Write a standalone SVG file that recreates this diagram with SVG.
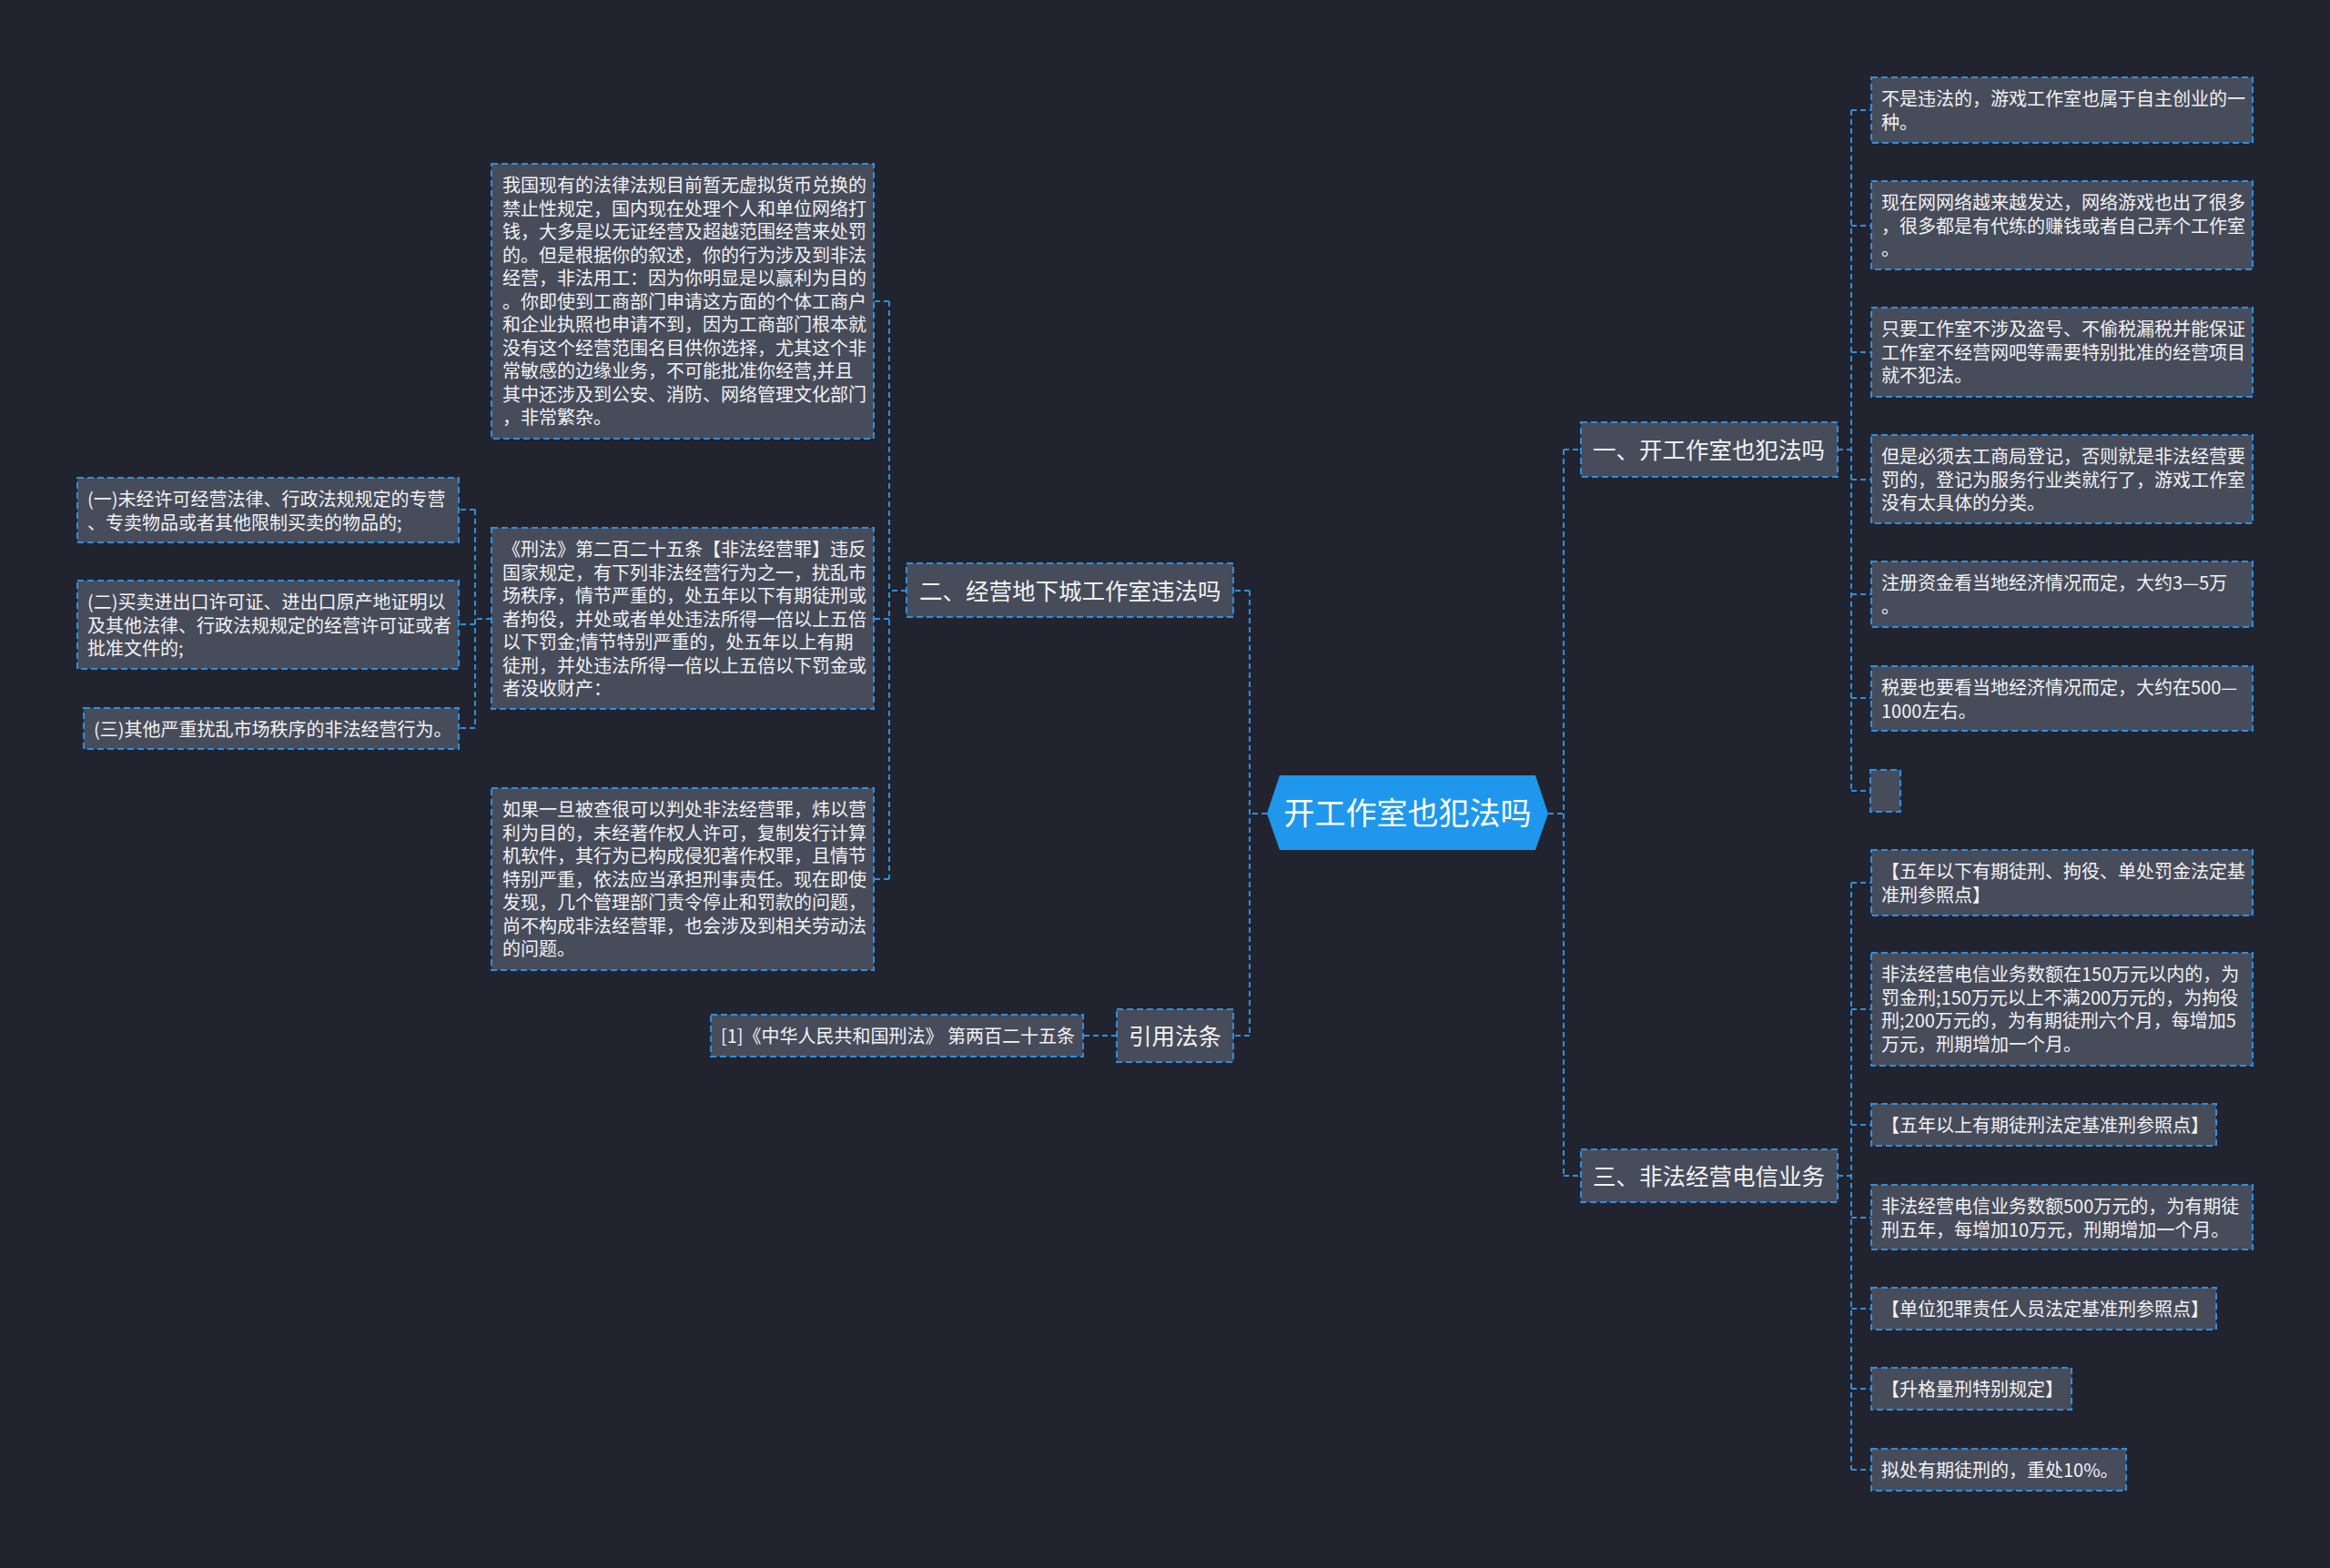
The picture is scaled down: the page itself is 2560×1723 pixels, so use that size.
<svg xmlns="http://www.w3.org/2000/svg" width="2560" height="1723" viewBox="0 0 2560 1723">
<style>
.n rect{fill:#474c5b;stroke:#2b8fe0;stroke-width:2;stroke-dasharray:7 4}
.t{fill:#f2f2f2;font-family:"Noto Sans CJK SC","Noto Sans",sans-serif;font-size:20px}
.b{fill:#f2f2f2;font-family:"Noto Sans CJK SC","Noto Sans",sans-serif;font-size:25.5px}
.c{fill:#ffffff;font-family:"Noto Sans CJK SC","Noto Sans",sans-serif;font-size:34px}
#conns path{fill:none;stroke:#2b8fe0;stroke-width:2;stroke-dasharray:6 4}
</style>
<rect x="0" y="0" width="2560" height="1723" fill="#21242f"/>
<g id="conns">
<path d="M1392 894H1373M1373 649V1138M1373 649H1355M1373 1138H1355"/>
<path d="M1701 894H1718M1718 494V1292M1718 494H1737M1718 1292H1737"/>
<path d="M996 649H977M977 331V966M977 331H960M977 680H960M977 966H960"/>
<path d="M540 680H522M522 560V800M522 560H504M522 686H504M522 800H504"/>
<path d="M1227 1138H1190"/>
<path d="M2019 494H2034M2034 121V869M2034 121H2056M2034 248H2056M2034 387H2056M2034 527H2056M2034 653H2056M2034 767H2056M2034 869H2055"/>
<path d="M2019 1292H2034M2034 970V1615M2034 970H2056M2034 1109H2056M2034 1236H2056M2034 1338H2056M2034 1438H2056M2034 1526H2056M2034 1615H2056"/>
</g>
<g id="center">
<polygon points="1392,894 1406,852 1687,852 1701,894 1687,934 1406,934" fill="#1e97ed"/>
<text class="c" x="1546.5" y="906" text-anchor="middle">开工作室也犯法吗</text>
</g>
<g id="b1" class="n"><rect x="1737" y="464" width="282" height="60"/><text class="b" x="1750" y="503.5">一、开工作室也犯法吗</text></g>
<g id="b2" class="n"><rect x="996" y="619" width="359" height="59"/><text class="b" x="1010" y="658.5">二、经营地下城工作室违法吗</text></g>
<g id="b3" class="n"><rect x="1737" y="1263" width="282" height="58"/><text class="b" x="1750" y="1301.5">三、非法经营电信业务</text></g>
<g id="b4" class="n"><rect x="1227" y="1109" width="128" height="58"/><text class="b" x="1240" y="1147.5">引用法条</text></g>
<g id="l1" class="n"><rect x="540" y="180" width="420" height="302"/><text class="t" y="211"><tspan x="552">我国现有的法律法规目前暂无虚拟货币兑换的</tspan><tspan x="552" dy="25.5">禁止性规定，国内现在处理个人和单位网络打</tspan><tspan x="552" dy="25.5">钱，大多是以无证经营及超越范围经营来处罚</tspan><tspan x="552" dy="25.5">的。但是根据你的叙述，你的行为涉及到非法</tspan><tspan x="552" dy="25.5">经营，非法用工：因为你明显是以赢利为目的</tspan><tspan x="552" dy="25.5">。你即使到工商部门申请这方面的个体工商户</tspan><tspan x="552" dy="25.5">和企业执照也申请不到，因为工商部门根本就</tspan><tspan x="552" dy="25.5">没有这个经营范围名目供你选择，尤其这个非</tspan><tspan x="552" dy="25.5">常敏感的边缘业务，不可能批准你经营,并且</tspan><tspan x="552" dy="25.5">其中还涉及到公安、消防、网络管理文化部门</tspan><tspan x="552" dy="25.5">，非常繁杂。</tspan></text></g>
<g id="l2" class="n"><rect x="540" y="580" width="420" height="199"/><text class="t" y="611"><tspan x="552">《刑法》第二百二十五条【非法经营罪】违反</tspan><tspan x="552" dy="25.5">国家规定，有下列非法经营行为之一，扰乱市</tspan><tspan x="552" dy="25.5">场秩序，情节严重的，处五年以下有期徒刑或</tspan><tspan x="552" dy="25.5">者拘役，并处或者单处违法所得一倍以上五倍</tspan><tspan x="552" dy="25.5">以下罚金;情节特别严重的，处五年以上有期</tspan><tspan x="552" dy="25.5">徒刑，并处违法所得一倍以上五倍以下罚金或</tspan><tspan x="552" dy="25.5">者没收财产：</tspan></text></g>
<g id="l3" class="n"><rect x="540" y="866" width="420" height="200"/><text class="t" y="897"><tspan x="552">如果一旦被查很可以判处非法经营罪，炜以营</tspan><tspan x="552" dy="25.5">利为目的，未经著作权人许可，复制发行计算</tspan><tspan x="552" dy="25.5">机软件，其行为已构成侵犯著作权罪，且情节</tspan><tspan x="552" dy="25.5">特别严重，依法应当承担刑事责任。现在即使</tspan><tspan x="552" dy="25.5">发现，几个管理部门责令停止和罚款的问题，</tspan><tspan x="552" dy="25.5">尚不构成非法经营罪，也会涉及到相关劳动法</tspan><tspan x="552" dy="25.5">的问题。</tspan></text></g>
<g id="sa" class="n"><rect x="85" y="525" width="419" height="71"/><text class="t" y="556"><tspan x="96">(一)未经许可经营法律、行政法规规定的专营</tspan><tspan x="96" dy="25.5">、专卖物品或者其他限制买卖的物品的;</tspan></text></g>
<g id="sb" class="n"><rect x="85" y="638" width="419" height="97"/><text class="t" y="669"><tspan x="96">(二)买卖进出口许可证、进出口原产地证明以</tspan><tspan x="96" dy="25.5">及其他法律、行政法规规定的经营许可证或者</tspan><tspan x="96" dy="25.5">批准文件的;</tspan></text></g>
<g id="sc" class="n"><rect x="92" y="778" width="412" height="45"/><text class="t" x="103" y="809">(三)其他严重扰乱市场秩序的非法经营行为。</text></g>
<g id="ref" class="n"><rect x="781" y="1115" width="409" height="46"/><text class="t" x="792" y="1146">[1]《中华人民共和国刑法》 第两百二十五条</text></g>
<g id="r1" class="n"><rect x="2056" y="85" width="419" height="72"/><text class="t" y="116"><tspan x="2067">不是违法的，游戏工作室也属于自主创业的一</tspan><tspan x="2067" dy="25.5">种。</tspan></text></g>
<g id="r2" class="n"><rect x="2056" y="199" width="419" height="97"/><text class="t" y="230"><tspan x="2067">现在网网络越来越发达，网络游戏也出了很多</tspan><tspan x="2067" dy="25.5">，很多都是有代练的赚钱或者自己弄个工作室</tspan><tspan x="2067" dy="25.5">。</tspan></text></g>
<g id="r3" class="n"><rect x="2056" y="338" width="419" height="98"/><text class="t" y="369"><tspan x="2067">只要工作室不涉及盗号、不偷税漏税并能保证</tspan><tspan x="2067" dy="25.5">工作室不经营网吧等需要特别批准的经营项目</tspan><tspan x="2067" dy="25.5">就不犯法。</tspan></text></g>
<g id="r4" class="n"><rect x="2056" y="478" width="419" height="97"/><text class="t" y="509"><tspan x="2067">但是必须去工商局登记，否则就是非法经营要</tspan><tspan x="2067" dy="25.5">罚的，登记为服务行业类就行了，游戏工作室</tspan><tspan x="2067" dy="25.5">没有太具体的分类。</tspan></text></g>
<g id="r5" class="n"><rect x="2056" y="617" width="419" height="72"/><text class="t" y="648"><tspan x="2067">注册资金看当地经济情况而定，大约3—5万</tspan><tspan x="2067" dy="25.5">。</tspan></text></g>
<g id="r6" class="n"><rect x="2056" y="732" width="419" height="71"/><text class="t" y="763"><tspan x="2067">税要也要看当地经济情况而定，大约在500—</tspan><tspan x="2067" dy="25.5">1000左右。</tspan></text></g>
<g id="r7" class="n"><rect x="2055" y="846" width="33" height="46"/></g>
<g id="s1" class="n"><rect x="2056" y="934" width="419" height="72"/><text class="t" y="965"><tspan x="2067">【五年以下有期徒刑、拘役、单处罚金法定基</tspan><tspan x="2067" dy="25.5">准刑参照点】</tspan></text></g>
<g id="s2" class="n"><rect x="2056" y="1047" width="419" height="124"/><text class="t" y="1078"><tspan x="2067">非法经营电信业务数额在150万元以内的，为</tspan><tspan x="2067" dy="25.5">罚金刑;150万元以上不满200万元的，为拘役</tspan><tspan x="2067" dy="25.5">刑;200万元的，为有期徒刑六个月，每增加5</tspan><tspan x="2067" dy="25.5">万元，刑期增加一个月。</tspan></text></g>
<g id="s3" class="n"><rect x="2056" y="1213" width="379" height="46"/><text class="t" x="2067" y="1244">【五年以上有期徒刑法定基准刑参照点】</text></g>
<g id="s4" class="n"><rect x="2056" y="1302" width="419" height="71"/><text class="t" y="1333"><tspan x="2067">非法经营电信业务数额500万元的，为有期徒</tspan><tspan x="2067" dy="25.5">刑五年，每增加10万元，刑期增加一个月。</tspan></text></g>
<g id="s5" class="n"><rect x="2056" y="1415" width="379" height="46"/><text class="t" x="2067" y="1446">【单位犯罪责任人员法定基准刑参照点】</text></g>
<g id="s6" class="n"><rect x="2056" y="1503" width="220" height="46"/><text class="t" x="2067" y="1534">【升格量刑特别规定】</text></g>
<g id="s7" class="n"><rect x="2056" y="1592" width="280" height="46"/><text class="t" x="2067" y="1623">拟处有期徒刑的，重处10%。</text></g>
</svg>
